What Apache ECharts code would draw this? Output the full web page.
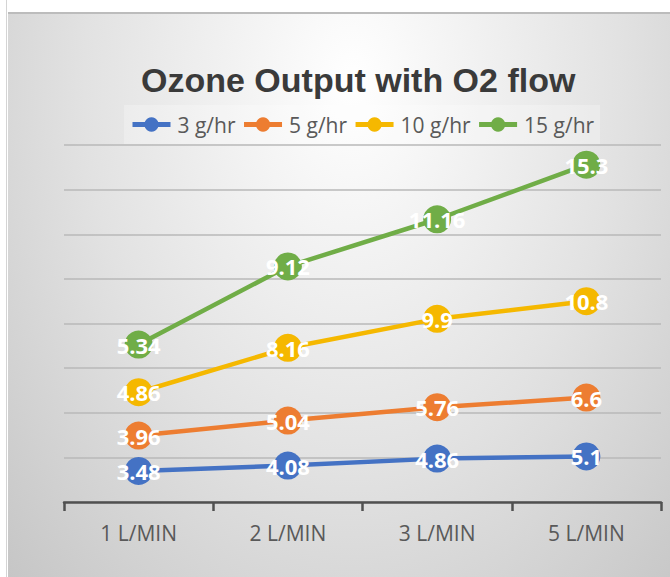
<!DOCTYPE html>
<html>
<head>
<meta charset="utf-8">
<script src="https://cdn.jsdelivr.net/npm/echarts@6/dist/echarts.min.js"></script>
<style>
  html, body { margin: 0; padding: 0; background: #ffffff; }
  #edge { position: absolute; left: 6px; top: 0; width: 1px; height: 577px; background: #d4d4d4; }
  #frame {
    position: absolute; left: 8px; top: 12px; width: 662px; height: 563px;
    border-top: 2px solid #bcbcbc;
    background: radial-gradient(ellipse at 52% 12%, #ffffff 0%, #e2e2e2 55%, #c6c6c6 100%);
  }
  #chart { position: absolute; left: 0; top: 0; width: 670px; height: 577px; }
</style>
</head>
<body>
<div id="edge"></div>
<div id="frame"></div>
<div id="chart"></div>
<script>
var categories = ['1 L/MIN', '2 L/MIN', '3 L/MIN', '5 L/MIN'];
var seriesNames = ['3 g/hr', '5 g/hr', '10 g/hr', '15 g/hr'];
var out3 = [3.48, 4.08, 4.86, 5.1];
var out5 = [3.96, 5.04, 5.76, 6.6];
var out10 = [4.86, 8.16, 9.9, 10.8];
var out15 = [5.34, 9.12, 11.16, 15.3];
var colors = ['#4472c4', '#ed7d31', '#f5b800', '#70ad47'];

(function() {
  var chart = echarts.init(document.getElementById('chart'), null, { renderer: 'svg' });
  var values = [out3, out5, out10, out15];

  var series = values.map(function(v, i) {
    return {
      name: seriesNames[i], type: 'line', stack: 'total', data: v,
      symbol: 'circle', symbolSize: 28,
      itemStyle: { color: colors[i] },
      lineStyle: { color: colors[i], width: 4.5 },
      label: {
        show: true, position: 'inside', color: '#ffffff',
        fontFamily: 'Open Sans', fontWeight: 'bold', fontSize: 22, formatter: '{c}'
      },
      z: 2 + i
    };
  });

  chart.setOption({
    animation: false,
    backgroundColor: 'transparent',
    title: {
      text: 'Ozone Output with O2 flow',
      left: 136, top: 58,
      textStyle: { fontFamily: 'Liberation Sans', fontWeight: 'bold', fontSize: 34, color: '#3a3a3a' }
    },
    legend: {
      data: seriesNames,
      left: 124, top: 105,
      padding: [9, 6, 9, 6],
      backgroundColor: 'rgba(255,255,255,0.25)',
      itemWidth: 38, itemHeight: 18, itemGap: 6,
      lineStyle: { width: 5 },
      textStyle: { fontFamily: 'Open Sans', fontSize: 21, color: '#595959', padding: [0, 0, 0, 2] }
    },
    grid: { left: 64, right: 9, top: 145, bottom: 75 },
    xAxis: {
      type: 'category', data: categories, boundaryGap: true,
      axisLine: { lineStyle: { color: '#505050', width: 2.5 } },
      axisTick: { show: true, length: 9, lineStyle: { color: '#505050', width: 2.5 } },
      axisLabel: { color: '#595959', fontFamily: 'Open Sans', fontSize: 21, margin: 20 }
    },
    yAxis: {
      type: 'value', min: 0, max: 40, interval: 5,
      axisLine: { show: false }, axisTick: { show: false }, axisLabel: { show: false },
      splitLine: { lineStyle: { color: '#b9b9b9', width: 1.5 } }
    },
    series: series
  });
  window.addEventListener('resize', function() { chart.resize(); });
})();
</script>
</body>
</html>
